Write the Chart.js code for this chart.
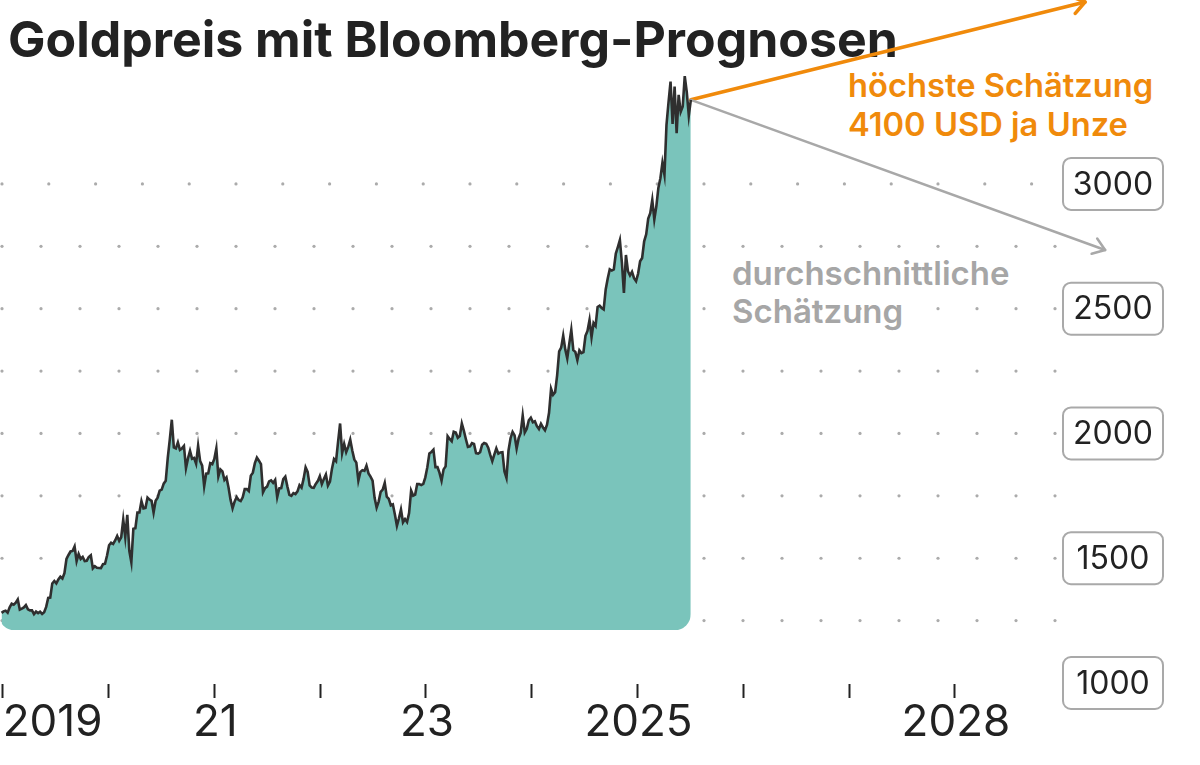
<!DOCTYPE html>
<html>
<head>
<meta charset="utf-8">
<script src="https://cdn.jsdelivr.net/npm/chart.js@4.4.1/dist/chart.umd.min.js"></script>
<style>
html,body{margin:0;padding:0;background:#fff;}
#wrap{position:relative;width:1200px;height:765px;overflow:hidden;font-family:Inter,"Noto Sans",sans-serif;}
#c{position:absolute;left:0;top:0;z-index:2;}
.t{position:absolute;white-space:nowrap;line-height:1;z-index:1;}
#title{left:8px;top:14px;font-size:50px;font-weight:700;color:#222;letter-spacing:0;}
.orange{color:#f08a0b;font-weight:600;font-size:32.7px;}
.gray{color:#a6a6a6;font-weight:600;font-size:33px;}
</style>
</head>
<body>
<div id="wrap">
  <div class="t" id="title">Goldpreis mit Bloomberg-Prognosen</div>
  <div class="t orange" style="left:848px;top:69px;">höchste Schätzung</div>
  <div class="t orange" style="left:848px;top:108px;">4100 USD ja Unze</div>
  <div class="t gray" style="left:732px;top:257px;">durchschnittliche</div>
  <div class="t gray" style="left:732px;top:295px;">Schätzung</div>
  <canvas id="c" width="1200" height="765"></canvas>
</div>
<script>
// ---- data (weekly closes, USD per ounce) ----
const firstWeek = '2018-12-28';
const gold2018 = [1281];
const gold2019 = [1287,1290,1282,1303, 1318,1314,1322,1335, 1294,1298,1303,1312,1295,
  1291,1291,1276,1286, 1280,1286,1277,1284,1305, 1341,1342,1399,1409, 1399,1415,1426,1419,
  1440,1497,1513,1527,1529, 1547,1488,1517,1497, 1505,1489,1490,1505, 1512,1459,1468,1462,1461,
  1460,1476,1478,1511];
const gold2020 = [1552,1562,1557,1571,1589, 1570,1584,1655,1585, 1674,1530,1484,1618,
  1620,1683,1683,1729, 1700,1702,1743,1735,1730, 1683,1730,1743,1771, 1775,1799,1810,1902,1975,
  2055,1944,1940,1964, 1934,1940,1950,1861, 1900,1930,1899,1902,1879, 1951,1889,1871,1788,
  1839,1840,1881,1877];
const gold2021 = [1898,1940,1828,1856,1848, 1814,1824,1784,1734, 1700,1727,1745,1733,
  1729,1744,1777,1777,1769, 1831,1843,1881,1903, 1891,1877,1764,1781, 1787,1808,1812,1802,1814,
  1745,1780,1781,1817, 1827,1788,1754,1750, 1761,1757,1768,1793,1783, 1818,1864,1846,1792,
  1783,1782,1798,1809,1829];
const gold2022 = [1797,1817,1835,1791, 1807,1859,1898,1889, 1966,2040,1921,1958,
  1925,1946,1975,1932,1896, 1883,1811,1846,1853, 1850,1871,1840,1827, 1811,1742,1703,1727,1766,
  1775,1802,1747,1738, 1712,1716,1675,1630,1660, 1695,1644,1657,1645, 1681,1771,1751,1755,
  1797,1797,1793,1798,1824];
const gold2023 = [1865,1920,1926,1935, 1865,1865,1842,1811, 1856,1868,1989,1978,1969,
  2007,2004,1983,1990, 2040,2011,1977,1946, 1948,1961,1958,1921,1919, 1925,1955,1962,1959,
  1943,1914,1889,1915, 1940,1919,1924,1925,1848, 1822,1932,1981,2006, 1992,1940,1981,2002,
  2072,2004,2019,2053,2063];
const gold2024 = [2045,2049,2029,2018, 2039,2024,2013,2035, 2083,2179,2155,2165,2233,
  2329,2344,2392,2337, 2301,2360,2415,2334,2327, 2294,2333,2322,2326, 2391,2411,2455,2386,
  2443,2431,2507,2512,2503, 2497,2577,2621,2658, 2653,2657,2721,2747, 2775,2685,2563,2715,2650,
  2633,2648,2622,2610];
const gold2025 = [2640,2690,2703,2770,2798, 2861,2883,2936,2858, 2910,2984,3023,3085,
  3037,3237,3327,3410, 3240,3390,3203,3357,3289, 3310,3432,3368,3274, 3337];

const fillBase = 1212;                 // bottom of the shaded area
const highArrowEnd = [2029.23, 3729];  // höchste Schätzung (arrow tip)
const avgArrowEnd  = [2029.42, 2735];  // durchschnittliche Schätzung (arrow tip)

const yTicks = [1000, 1500, 2000, 2500, 3000];
const dotRows = [1250, 1500, 1750, 2000, 2250, 2500, 2750, 3000];
const xTickYears = [2019, 2020, 2021, 2022, 2023, 2024, 2025, 2026, 2027, 2028];
const xTickLabels = ['2019', '', '21', '', '23', '', '2025', '', '', '2028'];

// ---- build points ----
function decYear(d) {
  const y = d.getUTCFullYear();
  const a = Date.UTC(y, 0, 1), b = Date.UTC(y + 1, 0, 1);
  return y + (d.getTime() - a) / (b - a);
}
const prices = [].concat(gold2018, gold2019, gold2020, gold2021, gold2022, gold2023, gold2024, gold2025);
const t0 = new Date(firstWeek + 'T00:00:00Z').getTime();
const points = prices.map((v, i) => ({ x: decYear(new Date(t0 + i * 7 * 86400000)), y: v }));
const last = points[points.length - 1];

const PX_PER_YEAR = 105.8, X0 = 2.7;
const xMin = 2019 - X0 / PX_PER_YEAR;
const xMax = xMin + 1200 / PX_PER_YEAR;

const FILL_INDEX = 3;

const deco = {
  id: 'deco',
  beforeDatasetsDraw(chart) {
    const ctx = chart.ctx, xs = chart.scales.x, ys = chart.scales.y;
    // dotted grid
    ctx.save();
    ctx.fillStyle = '#ababab';
    dotRows.forEach(v => {
      const yp = ys.getPixelForValue(v);
      const step = v === 3000 ? 46.8 : 39;
      const xEnd = v === 3000 ? 1040 : 1058;
      for (let x = 2; x <= xEnd; x += step) {
        ctx.beginPath(); ctx.arc(x, yp, 1.6, 0, Math.PI * 2); ctx.fill();
      }
    });
    ctx.restore();
    // rounded clip for the area
    const xl = xs.getPixelForValue(points[0].x) - 3;
    const xr = xs.getPixelForValue(last.x);
    const yb = ys.getPixelForValue(fillBase);
    const r = 16, top = -20;
    ctx.save();
    ctx.beginPath();
    ctx.moveTo(xl, top);
    ctx.lineTo(xr, top);
    ctx.lineTo(xr, yb - r);
    ctx.arcTo(xr, yb, xr - r, yb, r);
    ctx.lineTo(xl + r, yb);
    ctx.arcTo(xl, yb, xl, yb - r, r);
    ctx.closePath();
    ctx.clip();
  },
  afterDatasetDraw(chart, args) {
    if (args.index === FILL_INDEX) chart.ctx.restore();
  },
  afterDatasetsDraw(chart) {
    const ctx = chart.ctx;
    chart.data.datasets.forEach((ds, i) => {
      if (!ds.arrow) return;
      const pts = chart.getDatasetMeta(i).data;
      const a = pts[pts.length - 2], b = pts[pts.length - 1];
      const ang = Math.atan2(b.y - a.y, b.x - a.x);
      const L = ds.arrowLen, w = 0.62;
      ctx.save();
      ctx.strokeStyle = ds.borderColor; ctx.lineWidth = ds.borderWidth;
      ctx.lineCap = 'round'; ctx.lineJoin = 'round';
      ctx.beginPath();
      ctx.moveTo(b.x - L * Math.cos(ang - w), b.y - L * Math.sin(ang - w));
      ctx.lineTo(b.x, b.y);
      ctx.lineTo(b.x - L * Math.cos(ang + w), b.y - L * Math.sin(ang + w));
      ctx.stroke();
      ctx.restore();
    });
  },
  afterDraw(chart) {
    const ctx = chart.ctx, xs = chart.scales.x, ys = chart.scales.y;
    ctx.save();
    // y value boxes
    yTicks.forEach(v => {
      const yp = ys.getPixelForValue(v);
      const bx = 1063, bw = 100, bh = 52, r = 8, by = yp - bh / 2;
      ctx.beginPath();
      ctx.moveTo(bx + r, by);
      ctx.arcTo(bx + bw, by, bx + bw, by + bh, r);
      ctx.arcTo(bx + bw, by + bh, bx, by + bh, r);
      ctx.arcTo(bx, by + bh, bx, by, r);
      ctx.arcTo(bx, by, bx + bw, by, r);
      ctx.closePath();
      ctx.fillStyle = '#fff'; ctx.fill();
      ctx.strokeStyle = '#a9a9a9'; ctx.lineWidth = 2; ctx.stroke();
      ctx.fillStyle = '#222';
      ctx.font = '32px Inter, "Noto Sans", sans-serif';
      ctx.textAlign = 'center'; ctx.textBaseline = 'middle';
      ctx.fillText(String(v), bx + bw / 2, yp + 1);
    });
    // x labels
    ctx.fillStyle = '#222';
    ctx.font = '44px Inter, "Noto Sans", sans-serif';
    ctx.textBaseline = 'alphabetic';
    xTickYears.forEach((yr, i) => {
      const lab = xTickLabels[i];
      if (!lab) return;
      const xp = xs.getPixelForValue(yr);
      ctx.textAlign = i === 0 ? 'left' : 'center';
      ctx.fillText(lab, i === 0 ? xp : xp + 1, 736);
    });
    ctx.restore();
  }
};

new Chart(document.getElementById('c'), {
  type: 'line',
  data: {
    datasets: [
      { data: points, borderColor: '#2f2f2f', borderWidth: 2.6, pointRadius: 0, fill: false, order: 0, tension: 0 },
      { data: [{ x: last.x, y: last.y }, { x: highArrowEnd[0], y: highArrowEnd[1] }],
        borderColor: '#f08a0b', borderWidth: 3.5, pointRadius: 0, fill: false, order: 2,
        arrow: true, arrowLen: 15, borderCapStyle: 'round' },
      { data: [{ x: last.x, y: last.y }, { x: avgArrowEnd[0], y: avgArrowEnd[1] }],
        borderColor: '#a8a8a8', borderWidth: 2.5, pointRadius: 0, fill: false, order: 1,
        arrow: true, arrowLen: 14, borderCapStyle: 'round' },
      { data: points, borderWidth: 0, borderColor: 'rgba(0,0,0,0)', backgroundColor: '#7ac4bb',
        pointRadius: 0, fill: { value: fillBase }, order: 5, tension: 0 }
    ]
  },
  options: {
    responsive: false,
    animation: false,
    events: [],
    layout: { padding: 0 },
    plugins: { legend: { display: false }, tooltip: { enabled: false } },
    scales: {
      x: {
        type: 'linear', min: xMin, max: xMax, position: 'bottom',
        afterFit: s => { s.height = 81; },
        afterBuildTicks: s => { s.ticks = xTickYears.map(v => ({ value: v })); },
        grid: { drawOnChartArea: false, drawTicks: true, tickLength: 14, tickWidth: 2, tickColor: '#222', color: 'rgba(0,0,0,0)' },
        border: { display: false },
        ticks: { display: false }
      },
      y: { display: false, min: 996, max: 3737 }
    }
  },
  plugins: [deco]
});
</script>
</body>
</html>
